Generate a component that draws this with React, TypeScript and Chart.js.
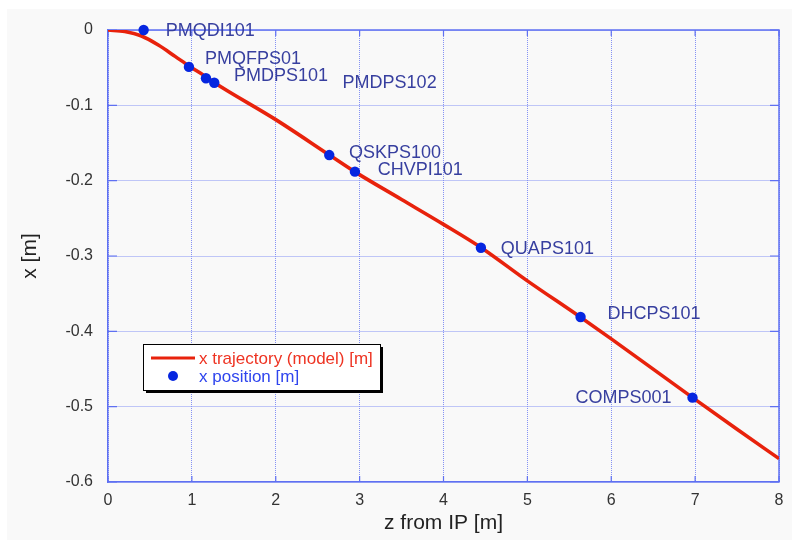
import React, { useEffect, useRef } from 'react';
import { Chart, registerables } from 'chart.js';

Chart.register(...registerables);

// ---- data ----
const trajZ = [0, 0.2, 0.4, 0.6, 0.8, 0.97, 1.18, 1.27, 2.0, 2.64, 2.94, 3.5, 4.0, 4.45, 5.0, 5.63, 6.0, 6.97, 7.5, 8.0];
const trajX = [0, -0.002, -0.008, -0.020, -0.035, -0.048, -0.063, -0.070, -0.119, -0.166, -0.188, -0.225, -0.258, -0.289, -0.333, -0.381, -0.410, -0.488, -0.530, -0.569];

const posZ = [0.425, 0.965, 1.168, 1.267, 2.638, 2.944, 4.446, 5.634, 6.969];
const posX = [0, -0.049, -0.064, -0.070, -0.166, -0.188, -0.289, -0.381, -0.488];

const posNames = ['PMQDI101', 'PMQFPS01', 'PMDPS101', 'PMDPS102', 'QSKPS100', 'CHVPI101', 'QUAPS101', 'DHCPS101', 'COMPS001'];
const labelZ = [0.688, 1.156, 1.502, 2.797, 2.872, 3.215, 4.684, 5.956, 5.574];
const labelX = [0.001, -0.036, -0.059, -0.068, -0.161, -0.183, -0.288, -0.375, -0.486];

const xTicks = [0, 1, 2, 3, 4, 5, 6, 7, 8];
const yTicks = [0, -0.1, -0.2, -0.3, -0.4, -0.5, -0.6];

const seriesNames = ['x position [m]', 'x trajectory (model) [m]'];
const xTitle = 'z from IP [m]';
const yTitle = 'x [m]';

// ---- style ----
const FONT = '"Liberation Sans", Arial, Helvetica, sans-serif';
const AXIS = '#5f70f2';
const GRID = '#8592f4';
const RED = '#e8220c';
const BLUE = '#0626e0';
const LABEL = '#373f9f';

const bgPlugin = {
  id: 'bg',
  beforeDraw(chart: any) {
    const { ctx, width, height } = chart;
    ctx.save();
    ctx.fillStyle = '#ffffff';
    ctx.fillRect(0, 0, width, height);
    ctx.fillStyle = '#f9f9f9';
    ctx.fillRect(7, 9, width - 8, height - 10);
    ctx.restore();
  },
};

const framePlugin = {
  id: 'frame',
  beforeDatasetsDraw(chart: any) {
    const { ctx, chartArea: a, scales } = chart;
    ctx.save();
    ctx.strokeStyle = AXIS;
    ctx.lineWidth = 1.5;
    ctx.beginPath();
    ctx.moveTo(a.left, a.top);
    ctx.lineTo(a.right, a.top);
    ctx.lineTo(a.right, a.bottom);
    ctx.stroke();
    ctx.lineWidth = 1.2;
    ctx.beginPath();
    scales.y.ticks.forEach((t: any) => {
      const py = scales.y.getPixelForValue(t.value);
      ctx.moveTo(a.left, py);
      ctx.lineTo(a.left + 9, py);
      ctx.moveTo(a.right - 9, py);
      ctx.lineTo(a.right, py);
    });
    scales.x.ticks.forEach((t: any) => {
      const px = scales.x.getPixelForValue(t.value);
      ctx.moveTo(px, a.bottom);
      ctx.lineTo(px, a.bottom - 6);
      ctx.moveTo(px, a.top);
      ctx.lineTo(px, a.top + 6);
    });
    ctx.stroke();
    ctx.restore();
  },
};

const annotPlugin = {
  id: 'annot',
  afterDatasetsDraw(chart: any) {
    const { ctx, chartArea: a, scales } = chart;
    ctx.save();
    ctx.font = `18px ${FONT}`;
    ctx.fillStyle = LABEL;
    ctx.textAlign = 'left';
    ctx.textBaseline = 'middle';
    posNames.forEach((n, i) => {
      ctx.fillText(n, scales.x.getPixelForValue(labelZ[i]), scales.y.getPixelForValue(labelX[i]) + 2);
    });

    // legend
    const ds = chart.data.datasets;
    const lx = a.left + 35;
    const ly = a.top + 314;
    const lw = 237;
    const lh = 46;
    ctx.fillStyle = '#000';
    ctx.fillRect(lx + 3, ly + 3, lw, lh);
    ctx.fillStyle = '#fff';
    ctx.fillRect(lx, ly, lw, lh);
    ctx.strokeStyle = '#000';
    ctx.lineWidth = 1;
    ctx.strokeRect(lx + 0.5, ly + 0.5, lw, lh);

    const r1 = ly + 14;
    const r2 = ly + 32;
    ctx.strokeStyle = ds[1].borderColor;
    ctx.lineWidth = 3;
    ctx.beginPath();
    ctx.moveTo(lx + 8, r1);
    ctx.lineTo(lx + 52, r1);
    ctx.stroke();
    ctx.fillStyle = ds[0].backgroundColor;
    ctx.beginPath();
    ctx.arc(lx + 30, r2, 5, 0, Math.PI * 2);
    ctx.fill();

    ctx.font = `17px ${FONT}`;
    ctx.fillStyle = '#ee3322';
    ctx.fillText(ds[1].label, lx + 56, r1 + 1);
    ctx.fillStyle = '#2f45ee';
    ctx.fillText(ds[0].label, lx + 56, r2 + 1);
    ctx.restore();
  },
};

export default function App() {
  const ref = useRef<HTMLCanvasElement>(null);

  useEffect(() => {
    document.body.style.margin = '0';
    const canvas = ref.current!;
    const chart = new Chart(canvas, {
      type: 'scatter',
      data: {
        datasets: [
          {
            label: seriesNames[0],
            data: posZ.map((z, i) => ({ x: z, y: posX[i] })),
            backgroundColor: BLUE,
            borderColor: BLUE,
            pointRadius: 5.2,
            pointBorderWidth: 0,
            showLine: false,
            order: 0,
            clip: 10,
          } as any,
          {
            label: seriesNames[1],
            data: trajZ.map((z, i) => ({ x: z, y: trajX[i] })),
            borderColor: RED,
            backgroundColor: RED,
            borderWidth: 3.6,
            pointRadius: 0,
            showLine: true,
            cubicInterpolationMode: 'monotone',
            order: 1,
          } as any,
        ],
      },
      options: {
        responsive: false,
        animation: false,
        devicePixelRatio: 1,
        layout: { padding: { left: 0, top: 30, right: 14, bottom: 0 } },
        plugins: {
          legend: { display: false },
          tooltip: { enabled: false },
        },
        scales: {
          x: {
            type: 'linear',
            min: 0,
            max: 8,
            afterBuildTicks: (s: any) => {
              s.ticks = xTicks.map((v) => ({ value: v }));
            },
            afterFit: (s: any) => {
              s.height = 59;
            },
            ticks: {
              font: { family: FONT, size: 16 },
              color: '#333',
              padding: 9,
              callback: (v: any) => String(v),
            },
            grid: { color: GRID, lineWidth: 1, drawTicks: false },
            border: { display: true, color: AXIS, width: 1.5, dash: [1, 1] },
            title: {
              display: true,
              text: xTitle,
              font: { family: FONT, size: 21 },
              color: '#222',
              padding: { top: 0, bottom: 5 },
            },
          },
          y: {
            type: 'linear',
            min: -0.6,
            max: 0,
            afterBuildTicks: (s: any) => {
              s.ticks = yTicks.map((v) => ({ value: v }));
            },
            afterFit: (s: any) => {
              s.width = 108;
            },
            ticks: {
              font: { family: FONT, size: 16 },
              color: '#333',
              padding: 15,
              callback: (v: any) => String(v),
            },
            grid: { color: GRID, lineWidth: 1, drawTicks: false },
            border: { display: true, color: AXIS, width: 1.5, dash: [1, 1] },
            title: {
              display: true,
              text: yTitle,
              font: { family: FONT, size: 21 },
              color: '#222',
              padding: { top: 18, bottom: 0 },
            },
          },
        },
      } as any,
      plugins: [bgPlugin, framePlugin, annotPlugin],
    });
    return () => chart.destroy();
  }, []);

  return <canvas ref={ref} width={793} height={541} style={{ display: 'block' }} />;
}
